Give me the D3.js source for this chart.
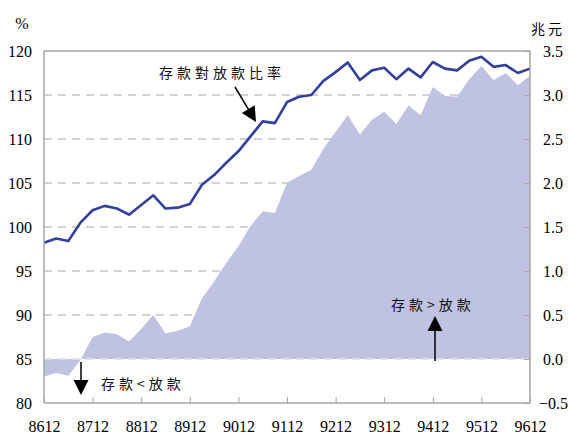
<!DOCTYPE html>
<html><head><meta charset="utf-8">
<script src="https://cdn.jsdelivr.net/npm/d3@7"></script>
<style>
html,body{margin:0;padding:0;background:#fff;}
svg{display:block;}
.num{font-family:'Liberation Serif','Times New Roman',serif !important;font-size:16px;fill:#000;}
</style></head>
<body>
<svg id="c" width="569" height="437"></svg>
<script>
const periods = ["8612","8703","8706","8709","8712","8803","8806","8809","8812","8903","8906","8909","8912",
  "9003","9006","9009","9012","9103","9106","9109","9112","9203","9206","9209","9212",
  "9303","9306","9309","9312","9403","9406","9409","9412","9503","9506","9509","9512",
  "9603","9606","9609","9612"];
const ratio = [98.2,98.7,98.4,100.5,101.9,102.4,102.1,101.4,102.5,103.6,102.1,102.2,102.6,
  104.8,105.9,107.3,108.6,110.3,112.0,111.8,114.2,114.8,115.0,116.6,117.6,
  118.7,116.7,117.8,118.1,116.8,118.0,117.0,118.75,118.0,117.8,118.9,119.35,
  118.2,118.4,117.5,118.0];
const gap = [-0.20,-0.16,-0.19,-0.01,0.25,0.30,0.28,0.20,0.34,0.50,0.29,0.32,0.37,
  0.69,0.88,1.09,1.28,1.51,1.68,1.66,2.00,2.08,2.15,2.39,2.58,
  2.77,2.55,2.72,2.81,2.67,2.88,2.77,3.09,2.99,2.98,3.18,3.33,
  3.17,3.25,3.11,3.22];
const xTickLabels = ["8612","8712","8812","8912","9012","9112","9212","9312","9412","9512","9612"];
const leftTicks = [80,85,90,95,100,105,110,115,120];
const rightTicks = [-0.5,0.0,0.5,1.0,1.5,2.0,2.5,3.0,3.5];

const L=44, R=530, T=51, B=403;
const svg = d3.select("#c");
const x = d3.scaleLinear().domain([0, periods.length-1]).range([L,R]);
const yL = d3.scaleLinear().domain([80,120]).range([B,T]);
const yR = d3.scaleLinear().domain([-0.5,3.5]).range([B,T]);
const cjk = "'Noto Sans CJK TC','Noto Sans CJK SC',sans-serif";
const grey = "#a6a6a6";

// gridlines
svg.append("g").selectAll("line").data(leftTicks.filter(v=>v>80 && v<120)).join("line")
  .attr("x1",L).attr("x2",R).attr("y1",d=>yL(d)).attr("y2",d=>yL(d))
  .attr("stroke",grey).attr("stroke-width",1).attr("stroke-dasharray","8,6");

// area
const area = d3.area().x((d,i)=>x(i)).y0(yR(0)).y1(d=>yR(d));
svg.append("path").datum(gap).attr("d",area).attr("fill","#bfc2e0");

// zero line over area edge
svg.append("line").attr("x1",L).attr("x2",R).attr("y1",yR(0)).attr("y2",yR(0))
  .attr("stroke","#ffffff").attr("stroke-width",1).attr("stroke-dasharray","8,6").attr("opacity",0.8);

// line
const line = d3.line().x((d,i)=>x(i)).y(d=>yL(d));
svg.append("path").datum(ratio).attr("d",line).attr("fill","none")
  .attr("stroke","#343f9b").attr("stroke-width",2.6).attr("stroke-linejoin","round");

// frame
svg.append("line").attr("x1",L).attr("x2",R).attr("y1",T).attr("y2",T).attr("stroke",grey).attr("stroke-width",1.5);
svg.append("line").attr("x1",L).attr("x2",R).attr("y1",B).attr("y2",B).attr("stroke",grey).attr("stroke-width",1.5);
svg.append("line").attr("x1",L).attr("x2",L).attr("y1",T).attr("y2",B).attr("stroke",grey).attr("stroke-width",1.5);
svg.append("line").attr("x1",R).attr("x2",R).attr("y1",T).attr("y2",B).attr("stroke",grey).attr("stroke-width",1.5);

// bottom axis
const xAxis = d3.axisBottom(x).tickValues(xTickLabels.map((d,i)=>i*4))
  .tickFormat((d,i)=>xTickLabels[i]).tickSizeInner(-6).tickSizeOuter(0).tickPadding(18);
const gx = svg.append("g").attr("transform",`translate(0,${B})`).call(xAxis);
gx.attr("font-family",null).attr("font-size",null);
gx.select(".domain").remove();
gx.selectAll("line").attr("stroke",grey).attr("stroke-width",1);
gx.selectAll("text").attr("class","num");

// left axis
const gl = svg.append("g").attr("transform",`translate(${L},0)`)
  .call(d3.axisLeft(yL).tickValues(leftTicks).tickSize(0).tickPadding(12));
gl.attr("font-family",null).attr("font-size",null);
gl.select(".domain").remove();
gl.selectAll("text").attr("class","num");

// right axis
const gr = svg.append("g").attr("transform",`translate(${R},0)`)
  .call(d3.axisRight(yR).tickValues(rightTicks).tickFormat(d3.format(".1f")).tickSizeInner(-6).tickSizeOuter(0).tickPadding(13));
gr.attr("font-family",null).attr("font-size",null);
gr.select(".domain").remove();
gr.selectAll("line").attr("stroke",grey);
gr.selectAll("text").attr("class","num");
gr.selectAll(".tick").filter(d=>d<0).select("text").attr("dx",-4);

// unit labels
svg.append("text").attr("class","num").attr("x",22).attr("y",29).attr("text-anchor","middle").text("%");
svg.append("text").attr("x",531).attr("y",34)
  .attr("font-family",cjk).attr("font-size",14).attr("letter-spacing","3px").text("兆元");

// annotations
const ann = (t,xx,yy)=>svg.append("text").attr("x",xx).attr("y",yy)
  .attr("font-family",cjk).attr("font-size",14).attr("letter-spacing","4px").attr("fill","#111").text(t);
ann("存款對放款比率",159,78);
ann("存款<放款",101,389);
ann("存款>放款",391,310);

function arrow(x1,y1,x2,y2){
  const a=Math.atan2(y2-y1,x2-x1), hl=15, hw=7.5;
  const bx=x2-hl*Math.cos(a), by=y2-hl*Math.sin(a);
  svg.append("line").attr("x1",x1).attr("y1",y1).attr("x2",bx).attr("y2",by)
    .attr("stroke","#000").attr("stroke-width",1.5);
  const px=-Math.sin(a)*hw, py=Math.cos(a)*hw;
  svg.append("path").attr("d",`M${x2},${y2}L${bx+px},${by+py}L${bx-px},${by-py}Z`).attr("fill","#000");
}
arrow(235,87,256,122);
arrow(81,362,81,395);
arrow(435,361,435,316);
</script>
</body></html>
